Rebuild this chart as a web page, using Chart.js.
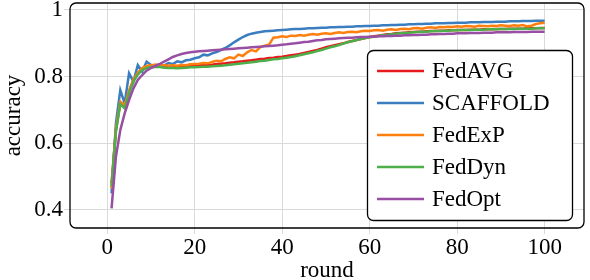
<!DOCTYPE html>
<html>
<head>
<meta charset="utf-8">
<script src="https://cdn.jsdelivr.net/npm/chart.js@4/dist/chart.umd.min.js"></script>
<style>
  html, body { margin: 0; padding: 0; background: #fff; }
  #wrap { width: 590px; height: 280px; }
</style>
</head>
<body>
<div id="wrap"><canvas id="accChart" width="590" height="280"></canvas></div>
<script>
// Data (accuracy per round)
const rounds = Array.from({ length: 100 }, (_, i) => i + 1);
const xTicks = [0, 20, 40, 60, 80, 100];
const yTicks = [0.4, 0.6, 0.8, 1];

const fedAvg = [
    0.480, 0.640, 0.722, 0.712, 0.755, 0.790, 0.810, 0.824, 0.830, 0.833,
    0.835, 0.834, 0.832, 0.830, 0.831, 0.830, 0.832, 0.831, 0.833, 0.833,
    0.834, 0.835, 0.835, 0.836, 0.838, 0.839, 0.840, 0.842, 0.843, 0.845,
    0.846, 0.848, 0.849, 0.851, 0.853, 0.854, 0.856, 0.857, 0.859, 0.860,
    0.862, 0.864, 0.866, 0.868, 0.871, 0.874, 0.877, 0.880, 0.884, 0.888,
    0.891, 0.894, 0.897, 0.900, 0.904, 0.907, 0.910, 0.913, 0.916, 0.919,
    0.921, 0.923, 0.925, 0.927, 0.928, 0.930, 0.931, 0.932, 0.933, 0.934,
    0.935, 0.935, 0.936, 0.937, 0.937, 0.938, 0.938, 0.939, 0.939, 0.940,
    0.940, 0.940, 0.941, 0.941, 0.941, 0.942, 0.942, 0.942, 0.943, 0.943,
    0.943, 0.944, 0.944, 0.944, 0.944, 0.945, 0.945, 0.945, 0.946, 0.946
];
const scaffold = [
    0.450, 0.660, 0.760, 0.720, 0.810, 0.785, 0.835, 0.815, 0.845, 0.835,
    0.830, 0.836, 0.833, 0.841, 0.838, 0.846, 0.843, 0.849, 0.851, 0.855,
    0.858, 0.866, 0.864, 0.870, 0.874, 0.880, 0.886, 0.894, 0.903, 0.911,
    0.919, 0.925, 0.929, 0.932, 0.934, 0.936, 0.937, 0.938, 0.939, 0.940,
    0.941, 0.942, 0.943, 0.943, 0.944, 0.945, 0.945, 0.946, 0.947, 0.947,
    0.948, 0.948, 0.949, 0.949, 0.950, 0.950, 0.951, 0.951, 0.952, 0.952,
    0.953, 0.953, 0.954, 0.954, 0.955, 0.955, 0.956, 0.956, 0.957, 0.957,
    0.958, 0.958, 0.959, 0.959, 0.960, 0.960, 0.960, 0.961, 0.961, 0.962,
    0.962, 0.962, 0.963, 0.963, 0.963, 0.964, 0.964, 0.964, 0.965, 0.965,
    0.965, 0.966, 0.966, 0.966, 0.967, 0.967, 0.967, 0.968, 0.968, 0.968
];
const fedExp = [
    0.465, 0.645, 0.725, 0.715, 0.758, 0.792, 0.812, 0.826, 0.832, 0.834,
    0.836, 0.835, 0.834, 0.833, 0.834, 0.833, 0.835, 0.834, 0.837, 0.838,
    0.839, 0.841, 0.840, 0.844, 0.848, 0.846, 0.853, 0.858, 0.855, 0.866,
    0.862, 0.873, 0.880, 0.876, 0.889, 0.893, 0.896, 0.917, 0.918, 0.921,
    0.919, 0.923, 0.922, 0.925, 0.923, 0.926, 0.928, 0.926, 0.929, 0.930,
    0.928, 0.931, 0.933, 0.931, 0.934, 0.935, 0.933, 0.936, 0.938, 0.937,
    0.939, 0.940, 0.938, 0.941, 0.942, 0.940, 0.943, 0.944, 0.942, 0.945,
    0.946, 0.944, 0.947, 0.948, 0.946, 0.949, 0.948, 0.950, 0.949, 0.951,
    0.950, 0.952, 0.951, 0.950, 0.953, 0.952, 0.951, 0.953, 0.952, 0.954,
    0.953, 0.952, 0.954, 0.953, 0.955, 0.951, 0.953, 0.958, 0.960, 0.962
];
const fedDyn = [
    0.470, 0.635, 0.718, 0.705, 0.750, 0.785, 0.806, 0.820, 0.826, 0.829,
    0.830, 0.829, 0.827, 0.826, 0.826, 0.825, 0.826, 0.827, 0.828, 0.828,
    0.829, 0.830, 0.830, 0.831, 0.832, 0.833, 0.834, 0.836, 0.837, 0.839,
    0.840, 0.842, 0.843, 0.845, 0.847, 0.848, 0.850, 0.852, 0.853, 0.855,
    0.857, 0.859, 0.861, 0.864, 0.867, 0.870, 0.873, 0.877, 0.880, 0.884,
    0.888, 0.891, 0.895, 0.899, 0.903, 0.906, 0.910, 0.913, 0.916, 0.918,
    0.920, 0.922, 0.924, 0.926, 0.927, 0.929, 0.930, 0.931, 0.932, 0.933,
    0.934, 0.935, 0.935, 0.936, 0.937, 0.937, 0.938, 0.938, 0.939, 0.939,
    0.940, 0.940, 0.940, 0.941, 0.941, 0.941, 0.942, 0.942, 0.942, 0.943,
    0.943, 0.943, 0.943, 0.944, 0.944, 0.944, 0.944, 0.945, 0.945, 0.945
];
const fedOpt = [
    0.405, 0.560, 0.640, 0.690, 0.730, 0.765, 0.790, 0.805, 0.818, 0.826,
    0.832, 0.838, 0.845, 0.852, 0.859, 0.864, 0.868, 0.871, 0.873, 0.875,
    0.876, 0.877, 0.878, 0.879, 0.880, 0.881, 0.882, 0.883, 0.884, 0.885,
    0.886, 0.887, 0.888, 0.889, 0.890, 0.891, 0.892, 0.893, 0.894, 0.896,
    0.897, 0.899, 0.900, 0.902, 0.904, 0.905, 0.907, 0.909, 0.910, 0.912,
    0.913, 0.914, 0.915, 0.916, 0.917, 0.917, 0.918, 0.919, 0.919, 0.920,
    0.920, 0.921, 0.921, 0.922, 0.922, 0.923, 0.923, 0.924, 0.924, 0.925,
    0.925, 0.926, 0.926, 0.927, 0.927, 0.928, 0.928, 0.929, 0.929, 0.930,
    0.930, 0.930, 0.931, 0.931, 0.931, 0.932, 0.932, 0.932, 0.933, 0.933,
    0.933, 0.933, 0.934, 0.934, 0.934, 0.934, 0.935, 0.935, 0.935, 0.935
];

const seriesNames = ['FedAVG', 'SCAFFOLD', 'FedExP', 'FedDyn', 'FedOpt'];
const seriesValues = [fedAvg, scaffold, fedExp, fedDyn, fedOpt];
const seriesColors = ['#e41a1c', '#3a7ebf', '#ff7f0e', '#4daf4a', '#984ea3'];

const FONT = '"Liberation Serif", "DejaVu Serif", serif';

function roundRect(ctx, x, y, w, h, r) {
    ctx.beginPath();
    ctx.moveTo(x + r, y);
    ctx.arcTo(x + w, y, x + w, y + h, r);
    ctx.arcTo(x + w, y + h, x, y + h, r);
    ctx.arcTo(x, y + h, x, y, r);
    ctx.arcTo(x, y, x + w, y, r);
    ctx.closePath();
}

// rounded axis frame + legend box inside the plot
const framePlugin = {
    id: 'frameAndLegend',
    afterDraw(chart) {
        const { ctx, chartArea: a } = chart;
        ctx.save();
        ctx.strokeStyle = '#000';
        ctx.lineWidth = 1.3;
        roundRect(ctx, a.left, a.top, a.right - a.left, a.bottom - a.top, 6);
        ctx.stroke();

        // legend
        const bx = 367.5, by = 50.5, bw = 205, bh = 170;
        roundRect(ctx, bx, by, bw, bh, 6);
        ctx.fillStyle = '#fff';
        ctx.fill();
        ctx.stroke();
        ctx.font = '23px ' + FONT;
        ctx.textBaseline = 'middle';
        chart.data.datasets.forEach((ds, i) => {
            const y = 71 + i * 32;
            ctx.strokeStyle = ds.borderColor;
            ctx.lineWidth = 2.5;
            ctx.beginPath();
            ctx.moveTo(377, y);
            ctx.lineTo(424, y);
            ctx.stroke();
            ctx.fillStyle = '#000';
            ctx.fillText(ds.label, 432, y + 1);
        });
        ctx.restore();
    }
};

const datasets = seriesNames.map((name, i) => ({
    label: name,
    data: rounds.map((r, j) => ({ x: r, y: seriesValues[i][j] })),
    borderColor: seriesColors[i],
    borderWidth: 2.5,
    pointRadius: 0,
    tension: 0,
    fill: false,
    order: seriesNames.length - i
}));

new Chart(document.getElementById('accChart').getContext('2d'), {
    type: 'line',
    data: { datasets },
    options: {
        responsive: false,
        animation: false,
        layout: { padding: { top: 3, right: 6, left: 0, bottom: 0 } },
        plugins: { legend: { display: false }, tooltip: { enabled: false } },
        scales: {
            x: {
                type: 'linear',
                min: -8.5, max: 109,
                afterBuildTicks: s => { s.ticks = xTicks.map(v => ({ value: v })); },
                afterFit: s => { s.height = 52; s.paddingLeft = 0; s.paddingRight = 0; },
                grid: { color: '#dadada', lineWidth: 1, tickLength: 6 },
                border: { display: false },
                ticks: { color: '#000', font: { family: FONT, size: 23 }, padding: 0, maxRotation: 0 },
                title: { display: true, text: 'round', color: '#000', font: { family: FONT, size: 23 }, padding: { top: 0, bottom: -5 } }
            },
            y: {
                min: 0.346, max: 1.021,
                afterBuildTicks: s => { s.ticks = yTicks.map(v => ({ value: v })); },
                afterFit: s => { s.width = 70; s.paddingTop = 0; s.paddingBottom = 0; },
                grid: { color: '#dadada', lineWidth: 1, tickLength: 6 },
                border: { display: false },
                ticks: { color: '#000', font: { family: FONT, size: 23 }, padding: 1, callback: v => String(v) },
                title: { display: true, text: 'accuracy', color: '#000', font: { family: FONT, size: 23 }, padding: { top: 0, bottom: 0 } }
            }
        }
    },
    plugins: [framePlugin]
});
</script>
</body>
</html>
